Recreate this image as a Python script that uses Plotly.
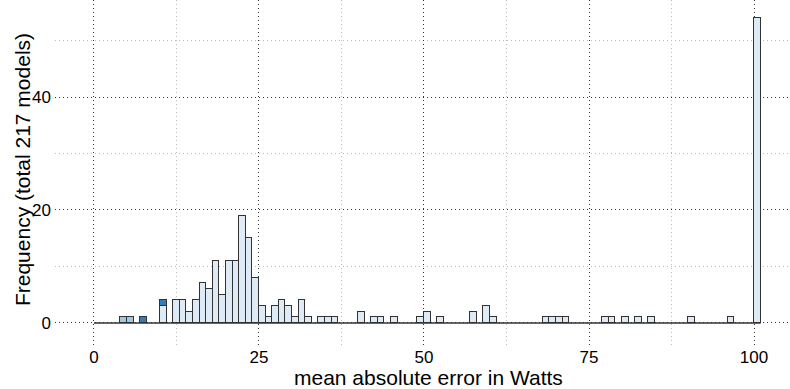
import plotly.graph_objects as go

# Histogram of model errors: 1-Watt bins from 0 to 101, counts per bin
bin_left = list(range(0, 101))

# counts by group (stacked), keyed by bin left edge
light_counts = {
    10: 3, 12: 4, 13: 4, 14: 2, 15: 4, 16: 7, 17: 6, 18: 11, 19: 5, 20: 11,
    21: 11, 22: 19, 23: 15, 24: 8, 25: 3, 26: 1, 27: 3, 28: 4, 29: 3, 30: 1,
    31: 4, 32: 1, 34: 1, 35: 1, 36: 1, 40: 2, 42: 1, 43: 1, 45: 1, 49: 1,
    50: 2, 52: 1, 57: 2, 59: 3, 60: 1, 68: 1, 69: 1, 70: 1, 71: 1, 77: 1,
    78: 1, 80: 1, 82: 1, 84: 1, 90: 1, 96: 1, 100: 54,
}
medium_counts = {4: 1, 5: 1}
dark_counts = {7: 1, 10: 1}

light = [light_counts.get(b, 0) for b in bin_left]
medium = [medium_counts.get(b, 0) for b in bin_left]
dark = [dark_counts.get(b, 0) for b in bin_left]

x_ticks = [0, 25, 50, 75, 100]
y_ticks = [0, 20, 40]

font_family = "Liberation Sans, Arial, Helvetica, sans-serif"
outline = dict(color="#333333", width=1.4)
dots = "1px,3px"

fig = go.Figure()

centers = [b + 0.5 for b in bin_left]
for name, vals, color in [
    ("light", light, "#deebf7"),
    ("medium", medium, "#9ecae1"),
    ("dark", dark, "#2f7dbb"),
]:
    xs = [c for c, v in zip(centers, vals) if v > 0]
    ys = [v for v in vals if v > 0]
    fig.add_trace(go.Bar(
        x=xs, y=ys, width=1, name=name,
        marker=dict(color=color, line=outline),
        showlegend=False, hoverinfo="x+y",
    ))

# empty bins still show as a flat outline along zero
fig.add_trace(go.Scatter(
    x=[bin_left[0], bin_left[-1] + 1], y=[0, 0], mode="lines",
    line=dict(color="#333333", width=1.6), showlegend=False, hoverinfo="skip",
))

plot_h = 389 - 44

fig.update_layout(
    barmode="stack",
    bargap=0,
    width=790, height=389,
    margin=dict(l=55, r=0, t=0, b=44),
    plot_bgcolor="white",
    paper_bgcolor="white",
    font=dict(family=font_family, color="black", size=17),
    xaxis=dict(
        range=[-5.9, 105.45],
        tickvals=x_ticks,
        ticktext=[str(v) for v in x_ticks],
        showgrid=True, gridcolor="#333333", gridwidth=1, griddash=dots,
        minor=dict(dtick=12.5, tick0=0, showgrid=True, gridcolor="#bbbbbb",
                   griddash=dots, gridwidth=1),
        zeroline=False, showline=False, ticks="",
        ticklabelstandoff=0,
        tickfont=dict(size=17),
    ),
    yaxis=dict(
        range=[-3.9, 57.17],
        tickvals=y_ticks,
        ticktext=[str(v) for v in y_ticks],
        showgrid=True, gridcolor="#333333", gridwidth=1, griddash=dots,
        minor=dict(dtick=10, tick0=0, showgrid=True, gridcolor="#bbbbbb",
                   griddash=dots, gridwidth=1),
        zeroline=False, showline=False, ticks="",
        ticklabelstandoff=3,
        tickfont=dict(size=17),
    ),
    annotations=[
        dict(
            text="Frequency (total 217 models)",
            xref="paper", yref="paper",
            x=-33 / 735, y=0.507,
            xanchor="center", yanchor="middle",
            textangle=-90, showarrow=False,
            font=dict(size=21, family=font_family, color="black"),
        ),
        dict(
            text="mean absolute error in Watts",
            xref="paper", yref="paper",
            x=(428 - 55) / 735, y=-(377 - plot_h) / plot_h,
            xanchor="center", yanchor="middle",
            showarrow=False,
            font=dict(size=21, family=font_family, color="black"),
        ),
    ],
)

fig.write_html("out.html")
